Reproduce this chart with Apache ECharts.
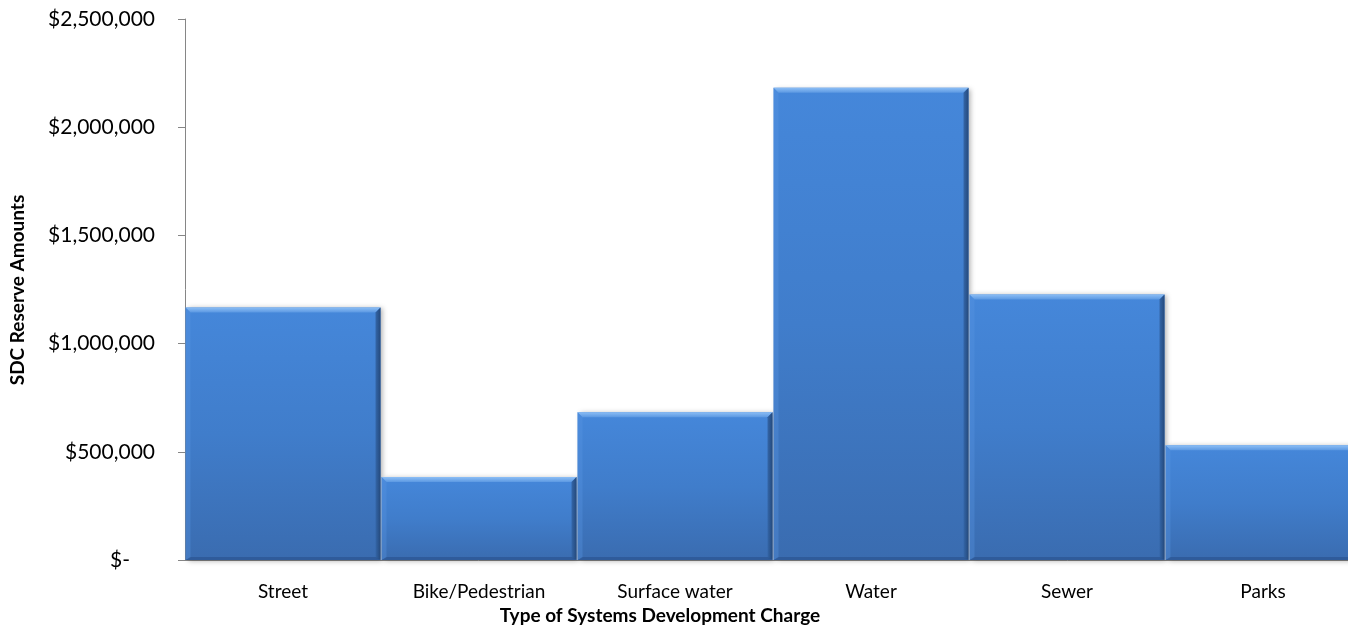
<!DOCTYPE html>
<html>
<head>
<meta charset="utf-8">
<script src="https://cdn.jsdelivr.net/npm/echarts@6/dist/echarts.min.js"></script>
<style>
html,body{margin:0;padding:0;background:#fff;overflow:hidden;width:1348px;height:632px;}
#chart{width:1361px;height:632px;}
</style>
</head>
<body>
<div id="chart"></div>
<script>
const categories = ['Street', 'Bike/Pedestrian', 'Surface water', 'Water', 'Sewer', 'Parks'];
const reserves = [1167000, 383000, 683000, 2182000, 1227000, 530000];
const yTicks = [0, 500000, 1000000, 1500000, 2000000, 2500000];
const xTitle = 'Type of Systems Development Charge';
const yTitle = 'SDC Reserve Amounts';

const FONT = 'Lato, "Open Sans", sans-serif';
const chart = echarts.init(document.getElementById('chart'), null, {renderer: 'canvas', width: 1361, height: 632});

function fmt(v) {
  if (v === 0) return '{z|$-}';
  return '$' + v.toLocaleString('en-US');
}

function renderBar(params, api) {
  const idx = api.value(0), v = api.value(1);
  const top = api.coord([idx, v]);
  const base = api.coord([idx, 0]);
  const w = api.size([1, 0])[0];
  const x0 = top[0] - w / 2 + 0.5, x1 = top[0] + w / 2 - 0.5;
  const y0 = top[1], y1 = base[1];
  const b = 5;
  const body = new echarts.graphic.LinearGradient(0, 0, 0, 1, [
    {offset: 0, color: '#4587da'},
    {offset: 0.5, color: '#407dcb'},
    {offset: 1, color: '#3a6cb0'}
  ]);
  return {
    type: 'group',
    children: [
      {type: 'rect', shape: {x: x0, y: y0, width: x1 - x0, height: y1 - y0},
        style: {fill: body, shadowBlur: 5, shadowOffsetX: 2, shadowOffsetY: 1, shadowColor: 'rgba(0,0,0,0.3)'}},
      {type: 'polygon', shape: {points: [[x0, y0], [x1, y0], [x1 - b, y0 + b], [x0 + b, y0 + b]]},
        style: {fill: new echarts.graphic.LinearGradient(0, 0, 0, 1, [
          {offset: 0, color: '#8cbef5'}, {offset: 1, color: '#5b98e2'}])}},
      {type: 'polygon', shape: {points: [[x0, y0], [x0 + b, y0 + b], [x0 + b, y1 - 2], [x0, y1]]},
        style: {fill: 'rgba(90,150,225,0.35)'}},
      {type: 'polygon', shape: {points: [[x1, y0], [x1, y1], [x1 - b, y1 - 2], [x1 - b, y0 + b]]},
        style: {fill: new echarts.graphic.LinearGradient(1, 0, 0, 0, [
          {offset: 0, color: '#24497c'}, {offset: 1, color: '#3466a8'}])}},
      {type: 'polygon', shape: {points: [[x0, y1], [x1, y1], [x1 - b, y1 - 3], [x0 + b, y1 - 3]]},
        style: {fill: 'rgba(40,80,140,0.6)'}}
    ]
  };
}

chart.setOption({
  animation: false,
  backgroundColor: '#ffffff',
  grid: {left: 185, right: 0, top: 19, bottom: 72, containLabel: false},
  xAxis: {
    type: 'category',
    data: categories,
    axisLine: {show: true, lineStyle: {color: '#868686', width: 1}},
    axisTick: {show: false},
    axisLabel: {color: '#000', fontFamily: FONT, fontSize: 19, margin: 22},
    splitLine: {show: false}
  },
  yAxis: {
    type: 'value',
    min: 0, max: 2500000, interval: 500000,
    axisLine: {show: true, lineStyle: {color: '#868686', width: 1}},
    axisTick: {show: true, length: 7, lineStyle: {color: '#868686'}},
    splitLine: {show: false},
    axisLabel: {
      color: '#000', fontFamily: FONT, fontSize: 21, margin: 30,
      formatter: fmt,
      rich: {z: {color: '#000', fontFamily: FONT, fontSize: 21, padding: [0, 25, 0, 0]}}
    }
  },
  graphic: [
    {type: 'text', x: 660, y: 616,
      style: {text: xTitle, fill: '#000', font: 'bold 19px ' + FONT, textAlign: 'center', textVerticalAlign: 'middle'}},
    {type: 'text', x: 18, y: 290, rotation: Math.PI / 2,
      style: {text: yTitle, fill: '#000', font: 'bold 19px ' + FONT, textAlign: 'center', textVerticalAlign: 'middle'}}
  ],
  series: [{
    type: 'custom',
    renderItem: renderBar,
    data: reserves.map((v, i) => [i, v]),
    clip: false
  }]
});
</script>
</body>
</html>
